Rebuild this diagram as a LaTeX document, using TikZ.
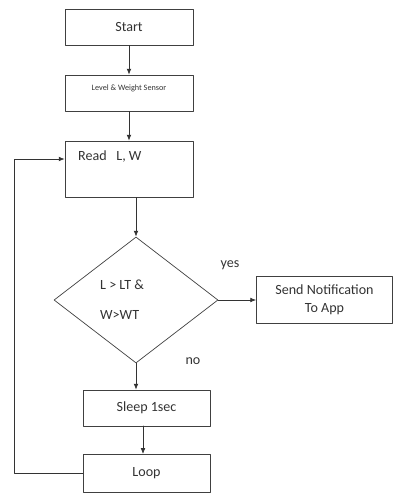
\documentclass[tikz,border=0pt]{standalone}
\usepackage{fontspec}
\setmainfont{Carlito}
\usetikzlibrary{shapes.geometric,arrows.meta}

\tikzset{
  box/.style={draw=black!75, line width=0.6pt, rectangle, inner sep=0pt},
  decision/.style={draw=black!75, line width=0.6pt, diamond, inner sep=0pt},
  flow/.style={draw=black!80, line width=0.6pt, -{Latex[length=5pt,width=4pt]}},
  txt/.style={font=\fontsize{12}{14}\selectfont, text=black!80, inner sep=0pt}
}

\begin{document}
\begin{tikzpicture}[
  x=0.03cm,
  y=-0.03cm,
  line cap=round,
  line join=round
]
  \useasboundingbox (0,0) rectangle (393,493);

  % Blocks
  \node[box, minimum width=3.84cm, minimum height=1.08cm] (start) at (129,27) {};
  \node[box, minimum width=3.84cm, minimum height=1.08cm] (sensor) at (129,93) {};
  \node[box, minimum width=3.84cm, minimum height=1.68cm] (read) at (129,169) {};
  \node[decision, minimum width=4.92cm, minimum height=3.78cm, aspect=1.3] (check) at (136,300) {};
  \node[box, minimum width=4.08cm, minimum height=1.41cm] (notify) at (324.5,300) {};
  \node[box, minimum width=3.81cm, minimum height=1.08cm] (sleep) at (146.5,408) {};
  \node[box, minimum width=3.81cm, minimum height=1.14cm] (loop) at (146.5,473) {};

  % Texte
  \node[txt] (tstart) at (start) {Start};
  \node[txt, font=\fontsize{7}{8}\selectfont] (tsensor) at (129,88) {Level \& Weight Sensor};
  \node[txt, anchor=west] (tread) at (78,157) {Read\ \ \ L, W};
  \node[txt, anchor=west] (tcond1) at (100,285) {L > LT \&};
  \node[txt, anchor=west] (tcond2) at (100,315) {W>WT};
  \node[txt, align=center] (tnotify) at (notify) {Send Notification\\[1pt]To App};
  \node[txt] (tsleep) at (sleep) {Sleep 1sec};
  \node[txt] (tloop) at (loop) {Loop};
  \node[txt] (tyes) at (230,265) {yes};
  \node[txt] (tno) at (193,361) {no};

  % Pfeile
  \draw[flow] (start.south) -- (sensor.north);
  \draw[flow] (sensor.south) -- (read.north);
  \draw[flow] (check.north |- read.south) -- (check.north);
  \draw[flow] (check.east) -- (notify.west);
  \draw[flow] (check.south) -- (check.south |- sleep.north);
  \draw[flow] (143,426) -- (143,454);

  % Rueckfuehrung
  \coordinate (back) at (14,159);
  \draw[flow] (loop.west) -| (back) -- (read.west |- back);
\end{tikzpicture}
\end{document}
